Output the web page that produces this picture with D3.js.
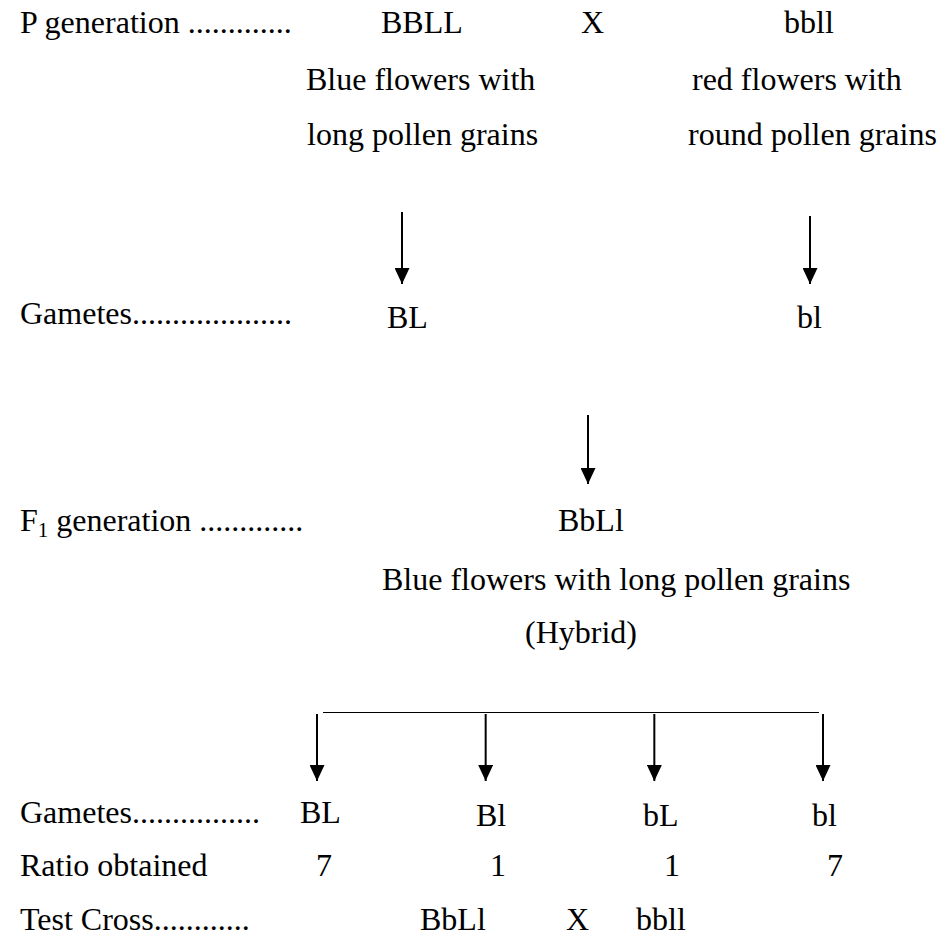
<!DOCTYPE html>
<html>
<head>
<meta charset="utf-8">
<script src="https://cdn.jsdelivr.net/npm/d3@7/dist/d3.min.js"></script>
<style>
  html, body { margin: 0; padding: 0; background: #fff; }
  svg text { font-family: "Liberation Serif", "Times New Roman", serif; font-size: 32px; fill: #000; }
</style>
</head>
<body>
<svg id="chart" width="947" height="946"></svg>
<script>
// ---- data ----
const rowLabels = ["P generation .............", "Gametes....................", "F1 generation .............", "Gametes................", "Ratio obtained", "Test Cross............"];
const parents = ["BBLL", "X", "bbll"];
const parentPhenoLine1 = ["Blue flowers with", "red flowers with"];
const parentPhenoLine2 = ["long pollen grains", "round pollen grains"];
const parentGametes = ["BL", "bl"];
const f1Genotype = ["BbLl"];
const f1Phenotype = ["Blue flowers with long pollen grains", "(Hybrid)"];
const f1Gametes = ["BL", "Bl", "bL", "bl"];
const ratioValues = [7, 1, 1, 7];
const testCross = ["BbLl", "X", "bbll"];

// ---- layout ----
const svg = d3.select("#chart");
const y = d3.scaleOrdinal()
  .domain(["p", "p2", "p3", "pArrTop", "pArrBot", "gam", "fArrTop", "fArrBot", "f1", "f1p", "hyb", "bar", "gArrBot", "gam2", "ratio", "test"])
  .range([33, 90, 145, 212, 300, 324, 415, 500, 531, 590, 643, 712.5, 797, 823, 876, 930]);

const xParents = d3.scaleOrdinal().domain(parents).range([381, 581, 784]);
const xPheno1 = d3.scaleOrdinal().domain([0, 1]).range([306, 692]);
const xPheno2 = d3.scaleOrdinal().domain([0, 1]).range([307, 688]);
const xPGam = d3.scaleOrdinal().domain([0, 1]).range([387, 797]);
const xPArrow = d3.scaleOrdinal().domain([0, 1]).range([402, 810]);
const xF1Arrow = 588;
const xGam = d3.scalePoint().domain(d3.range(4)).range([317, 823]);
const xGamText = d3.scaleOrdinal().domain(d3.range(4)).range([300, 476, 643, 812]);
const xRatio = d3.scaleOrdinal().domain(d3.range(4)).range([316, 490, 664, 827]);
const xTest = d3.scaleOrdinal().domain(testCross).range([420, 566, 636]);

// arrowhead marker
svg.append("defs").append("marker")
  .attr("id", "ah").attr("viewBox", "0 0 15 16")
  .attr("refX", 7.5).attr("refY", 16)
  .attr("markerWidth", 15).attr("markerHeight", 16)
  .attr("markerUnits", "userSpaceOnUse")
  .attr("orient", "0")
  .append("path").attr("d", "M0,0 L15,0 L7.5,16 Z").attr("fill", "#000");

function arrow(x, y1, y2) {
  svg.append("line").attr("x1", x).attr("x2", x).attr("y1", y1).attr("y2", y2)
    .attr("stroke", "#000").attr("stroke-width", 2)
    .attr("marker-end", "url(#ah)");
}
function text(t, x, yy) {
  return svg.append("text").attr("x", x).attr("y", yy).text(t);
}

// row labels
const labelY = ["p", "gam", "f1", "gam2", "ratio", "test"];
rowLabels.forEach((t, i) => {
  if (i === 2) {
    const el = svg.append("text").attr("x", 20).attr("y", y(labelY[i]));
    el.append("tspan").text("F");
    el.append("tspan").attr("font-size", "21px").attr("dy", 6).text("1");
    el.append("tspan").attr("dy", -6).text(t.slice(2));
  } else {
    text(t, 20, y(labelY[i]));
  }
});

// P generation
parents.forEach(p => text(p, xParents(p), y("p")));
parentPhenoLine1.forEach((t, i) => text(t, xPheno1(i), y("p2")));
parentPhenoLine2.forEach((t, i) => text(t, xPheno2(i), y("p3")));

// arrows to gametes
[0, 1].forEach(i => arrow(xPArrow(i), y("pArrTop") + (i ? 4 : 0), y("pArrBot") - 16));
parentGametes.forEach((g, i) => text(g, xPGam(i), y("gam") + 4));

// F1
arrow(xF1Arrow, y("fArrTop"), y("fArrBot") - 16);
text(f1Genotype[0], 558, y("f1"));
text(f1Phenotype[0], 382, y("f1p"));
text(f1Phenotype[1], 525, y("hyb"));

// bracket
svg.append("line").attr("x1", 323).attr("x2", 819).attr("y1", y("bar")).attr("y2", y("bar"))
  .attr("stroke", "#000").attr("stroke-width", 1);
f1Gametes.forEach((g, i) => {
  arrow(xGam(i), y("bar") + 1.5, y("gArrBot") - 16);
  text(g, xGamText(i), y("gam2") + (i ? 3 : 0));
});
ratioValues.forEach((v, i) => text(String(v), xRatio(i), y("ratio")));
testCross.forEach(t => text(t, xTest(t), y("test")));
</script>
</body>
</html>
